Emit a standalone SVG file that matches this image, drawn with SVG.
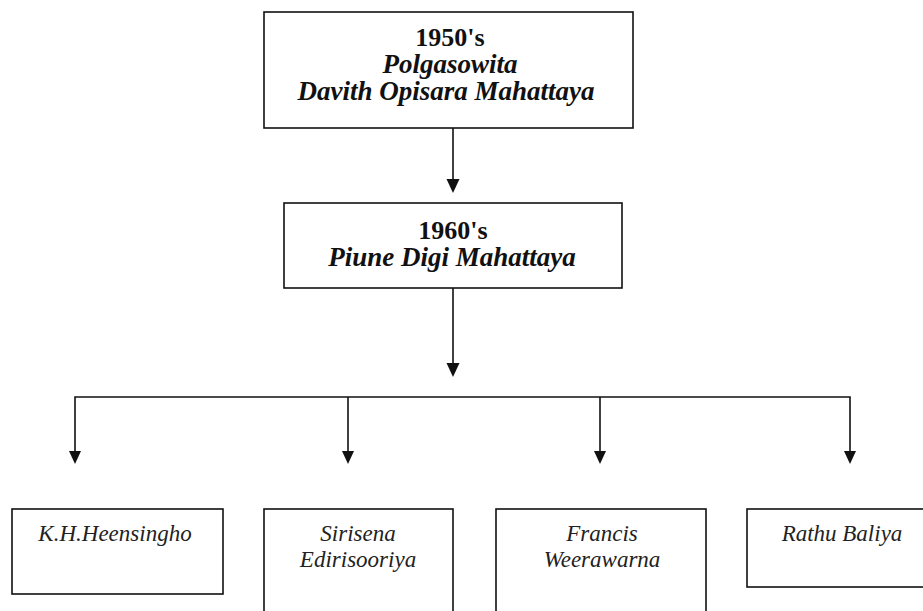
<svg xmlns="http://www.w3.org/2000/svg" width="923" height="611" viewBox="0 0 923 611">
<style>
.box{fill:#fff;stroke:#111;stroke-width:1.6}
.line{fill:none;stroke:#111;stroke-width:1.6}
.head{fill:#111}
.t1{font-family:"Liberation Serif",serif;font-weight:bold;font-size:26px;fill:#111;text-anchor:middle}
.t1i{font-family:"Liberation Serif",serif;font-weight:bold;font-style:italic;font-size:27px;fill:#111;text-anchor:middle}
.t2{font-family:"Liberation Serif",serif;font-style:italic;font-size:23px;fill:#222;text-anchor:middle}
</style>
<rect width="923" height="611" fill="#fff"/>
<g id="connectors">
<line class="line" x1="453" y1="128" x2="453" y2="180"/>
<polygon class="head" points="446.5,179 459.5,179 453,193"/>
<line class="line" x1="453" y1="288" x2="453" y2="364"/>
<polygon class="head" points="446.5,363 459.5,363 453,377"/>
<polyline class="line" points="75,452 75,397 850,397 850,452"/>
<line class="line" x1="348" y1="397" x2="348" y2="452"/>
<line class="line" x1="600" y1="397" x2="600" y2="452"/>
<polygon class="head" points="69,451 81,451 75,464"/>
<polygon class="head" points="342,451 354,451 348,464"/>
<polygon class="head" points="594,451 606,451 600,464"/>
<polygon class="head" points="844,451 856,451 850,464"/>
</g>
<g id="node-1950s">
<rect class="box" x="264" y="12" width="369" height="116"/>
<text class="t1" x="450" y="46">1950's</text>
<text class="t1i" x="450" y="73">Polgasowita</text>
<text class="t1i" x="446" y="100">Davith Opisara Mahattaya</text>
</g>
<g id="node-1960s">
<rect class="box" x="284" y="203" width="338" height="85"/>
<text class="t1" x="453" y="239">1960's</text>
<text class="t1i" x="452" y="266">Piune Digi Mahattaya</text>
</g>
<g id="node-heensingho">
<rect class="box" x="12" y="509" width="211" height="85"/>
<text class="t2" x="115" y="541">K.H.Heensingho</text>
</g>
<g id="node-sirisena">
<rect class="box" x="264" y="509" width="189" height="110"/>
<text class="t2" x="358" y="541">Sirisena</text>
<text class="t2" x="358" y="567">Edirisooriya</text>
</g>
<g id="node-francis">
<rect class="box" x="496" y="509" width="210" height="110"/>
<text class="t2" x="602" y="541">Francis</text>
<text class="t2" x="602" y="567">Weerawarna</text>
</g>
<g id="node-rathu">
<rect class="box" x="747" y="509" width="190" height="78"/>
<text class="t2" x="842" y="541">Rathu Baliya</text>
</g>
</svg>
